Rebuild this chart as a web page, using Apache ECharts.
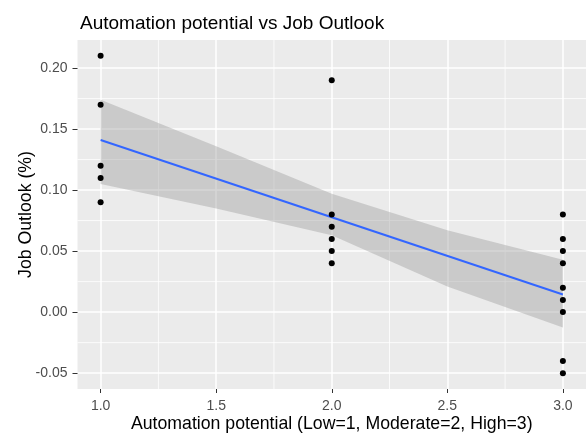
<!DOCTYPE html>
<html>
<head>
<meta charset="utf-8">
<script src="https://cdn.jsdelivr.net/npm/echarts@6/dist/echarts.min.js"></script>
<style>
  html, body { margin: 0; padding: 0; background: #fff; }
  #chart { width: 586px; height: 438px; }
</style>
</head>
<body>
<div id="chart"></div>
<script>
// job outlook per automation level
const lowPts = [0.21, 0.17, 0.12, 0.11, 0.09]
const modPts = [0.19, 0.08, 0.07, 0.06, 0.05, 0.04]
const highPts = [0.08, 0.06, 0.05, 0.04, 0.02, 0.01, 0.00, -0.04, -0.05]

// fitted line and its shaded band
const fitX = [1, 3]
const fitY = [0.141, 0.0145]
const bandX = [1, 1.5, 2, 2.5, 3]
const bandUpper = [0.174, 0.136, 0.097, 0.067, 0.043]
const bandLower = [0.105, 0.085, 0.063, 0.021, -0.0125]

// ticks
const xTicks = [1.0, 1.5, 2.0, 2.5, 3.0]
const yTicks = [-0.05, 0.00, 0.05, 0.10, 0.15, 0.20]
const xMinor = [1.25, 1.75, 2.25, 2.75]
const yMinor = [-0.025, 0.025, 0.075, 0.125, 0.175]

let points = []
lowPts.forEach(v => points.push([1, v]))
modPts.forEach(v => points.push([2, v]))
highPts.forEach(v => points.push([3, v]))

// [x, y, kind] kind 0 = horizontal, 1 = vertical
let minorLines = []
yMinor.forEach(v => minorLines.push([1, v, 0]))
xMinor.forEach(v => minorLines.push([v, 0, 1]))

const font = 'Liberation Sans'

let option = {
    animation: false,
    title: {
        text: 'Automation potential vs Job Outlook',
        left: 75,
        top: 9,
        textStyle: {fontFamily: font, fontSize: 19, fontWeight: 'normal', color: '#000'}
    },
    grid: {
        left: 77.5,
        top: 40,
        width: 510,
        bottom: 47,
        show: true,
        backgroundColor: '#EBEBEB',
        borderWidth: 0
    },
    xAxis: {
        type: 'value',
        min: 0.9,
        max: 3.1,
        name: 'Automation potential (Low=1, Moderate=2, High=3)',
        nameLocation: 'middle',
        nameGap: 26,
        nameMoveOverlap: false,
        nameTextStyle: {fontFamily: font, fontSize: 17.7, color: '#000'},
        axisLine: {show: false, onZero: false},
        axisTick: {show: true, length: 4, lineStyle: {color: '#333'}, customValues: xTicks},
        axisLabel: {
            customValues: xTicks,
            margin: 10,
            fontFamily: font, fontSize: 14, color: '#4D4D4D',
            formatter: v => v.toFixed(1)
        },
        splitLine: {show: true, lineStyle: {color: '#fff', width: 1.5}}
    },
    yAxis: {
        type: 'value',
        min: -0.063,
        max: 0.223,
        name: 'Job Outlook (%)',
        nameLocation: 'middle',
        nameGap: 42,
        nameMoveOverlap: false,
        nameTextStyle: {fontFamily: font, fontSize: 17.7, color: '#000'},
        axisLine: {show: false, onZero: false},
        axisTick: {show: true, length: 5, lineStyle: {color: '#333'}, customValues: yTicks},
        axisLabel: {
            customValues: yTicks,
            margin: 10,
            fontFamily: font, fontSize: 14, color: '#4D4D4D',
            formatter: v => v.toFixed(2)
        },
        splitLine: {show: true, lineStyle: {color: '#fff', width: 1.5}}
    },
    series: [
        {
            // minor grid lines
            type: 'custom',
            silent: true,
            z: 0,
            data: minorLines,
            renderItem(params, api) {
                const cs = params.coordSys
                const p = api.coord([api.value(0), api.value(1)])
                let shape
                if (api.value(2) === 0) {
                    shape = {x1: cs.x, y1: p[1], x2: cs.x + cs.width, y2: p[1]}
                } else {
                    shape = {x1: p[0], y1: cs.y, x2: p[0], y2: cs.y + cs.height}
                }
                return {type: 'line', shape: shape, style: {stroke: '#fff', lineWidth: 0.8}}
            }
        },
        {
            // confidence band
            type: 'custom',
            silent: true,
            z: 2,
            data: [[bandX[0], bandUpper[0]]],
            renderItem(params, api) {
                let pts = []
                for (let i = 0; i < bandX.length; i++) pts.push(api.coord([bandX[i], bandUpper[i]]))
                for (let i = bandX.length - 1; i >= 0; i--) pts.push(api.coord([bandX[i], bandLower[i]]))
                return {type: 'polygon', shape: {points: pts}, style: {fill: 'rgba(153,153,153,0.4)'}}
            }
        },
        {
            type: 'line',
            z: 3,
            data: fitX.map((x, i) => [x, fitY[i]]),
            showSymbol: false,
            lineStyle: {color: '#3366FF', width: 2}
        },
        {
            type: 'scatter',
            z: 4,
            data: points,
            symbolSize: 6,
            itemStyle: {color: '#000', opacity: 1}
        }
    ]
}

let myChart = echarts.init(document.getElementById('chart'))
myChart.setOption(option)
</script>
</body>
</html>
